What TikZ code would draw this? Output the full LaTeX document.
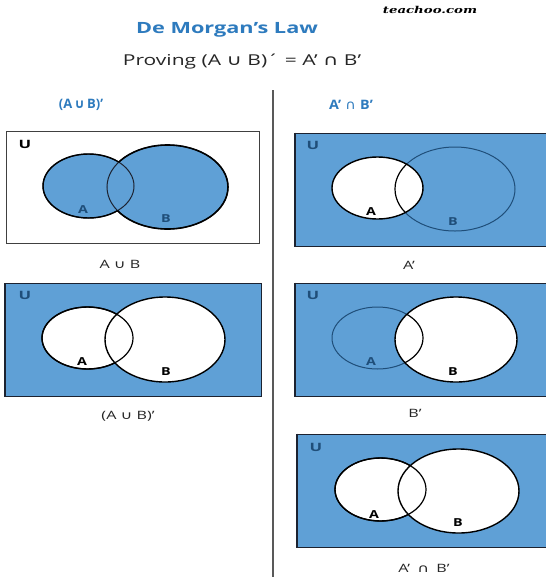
\documentclass[tikz,border=0pt]{standalone}
\usepackage{fontspec}
\setmainfont{Open Sans}
\newfontfamily\symf{DejaVu Sans}
\newfontfamily\brandf{DejaVu Serif}
\definecolor{vblue}{HTML}{5FA0D6}
\definecolor{tblue}{HTML}{2E7BBE}
\definecolor{dblue}{HTML}{1F4E79}
\definecolor{bord}{HTML}{1C2230}
\newcommand{\cupc}{{\symf\char"222A}}
\newcommand{\capc}{{\symf\char"2229}}
\newcommand{\wide}[2]{\scalebox{#1}[1]{#2}}
\begin{document}
\begin{tikzpicture}[x=1pt,y=-1pt,
  thickout/.style={draw=black,line width=1.4pt},
  thinout/.style={draw=dblue,line width=1pt},
  setlbl/.style={font=\bfseries\fontsize{11}{12}\selectfont,inner sep=0pt},
  ulbl/.style={font=\bfseries\fontsize{11.5}{12}\selectfont,inner sep=0pt},
  caption/.style={font=\fontsize{11.5}{13}\selectfont,text=black!85,inner sep=0pt},
  coltitle/.style={font=\bfseries\fontsize{13}{15}\selectfont,text=tblue,inner sep=0pt}]
\useasboundingbox (0,0) rectangle (546,579);
\fill[white] (0,0) rectangle (546,579);

% header
\node[font=\brandf\bfseries\itshape\fontsize{9.5}{11}\selectfont,inner sep=0pt] (brand) at (430,10) {\wide{1.4}{teachoo.com}};
\node[font=\bfseries\fontsize{15.5}{18}\selectfont,text=tblue,inner sep=0pt] (title) at (227,30) {\wide{1.4}{De Morgan’s Law}};
\node[font=\fontsize{15}{18}\selectfont,text=black!85,inner sep=0pt] (sub) at (242,62) {\wide{1.4}{Proving (A \cupc{} B)´ = A’ \capc{} B’}};

% divider
\coordinate (dtop) at (273,90);
\coordinate (dbot) at (273,577);
\draw[line width=1.3pt,draw=black!65] (dtop) -- (dbot);

% column titles
\node[coltitle] (t1) at (81,105) {\wide{1.0}{(A\,\cupc\,B)’}};
\node[coltitle] (t2) at (351,105) {\wide{1.1}{A’\hspace{0.3em}{\mdseries\capc}\hspace{0.3em}B’}};

% ---------- Panel 1: A u B ----------
\draw[line width=1pt,draw=black!75,fill=white] (6,131) rectangle (259,243);
\fill[vblue] (88.5,186) ellipse [x radius=45.5pt, y radius=32pt];
\fill[vblue] (167.5,187) ellipse [x radius=60.5pt, y radius=42pt];
\draw[thinout,draw=bord] (88.5,186) ellipse [x radius=45.5pt, y radius=32pt];
\draw[thinout,draw=bord] (167.5,187) ellipse [x radius=60.5pt, y radius=42pt];
\begin{scope}[even odd rule]
  \clip (0,100) rectangle (272,260) (88.5,186) ellipse [x radius=45.5pt, y radius=32pt];
  \draw[thickout,line width=1.6pt] (167.5,187) ellipse [x radius=60.5pt, y radius=42pt];
\end{scope}
\begin{scope}[even odd rule]
  \clip (0,100) rectangle (272,260) (167.5,187) ellipse [x radius=60.5pt, y radius=42pt];
  \draw[thickout] (88.5,186) ellipse [x radius=45.5pt, y radius=32pt];
\end{scope}
\node[ulbl,text=black] (u1) at (25,144) {\wide{1.45}{U}};
\node[setlbl,text=dblue] (a1) at (83,210) {\wide{1.3}{A}};
\node[setlbl,text=dblue] (b1) at (166,219) {\wide{1.3}{B}};
\node[caption] (c1) at (120,264) {\wide{1.4}{A \cupc{} B}};

% ---------- Panel 2: (A u B)' ----------
\fill[vblue] (5,283) rectangle (261,396);
\draw[line width=1pt,draw=bord] (5,283) rectangle (261,396);
\draw[line width=2pt,draw=bord] (5,283) -- (5,396.5);
\draw[fill=white,thickout] (87.5,338) ellipse [x radius=45.5pt, y radius=31pt];
\draw[fill=white,thickout] (165,339.5) ellipse [x radius=60pt, y radius=42.5pt];
\draw[thickout,line width=1.2pt] (87.5,338) ellipse [x radius=45.5pt, y radius=31pt];
\node[ulbl,text=dblue] (u2) at (25,295) {\wide{1.45}{U}};
\node[setlbl] (a2) at (82,362) {\wide{1.3}{A}};
\node[setlbl] (b2) at (166,372) {\wide{1.3}{B}};
\node[caption] (c2) at (128,416) {\wide{1.4}{(A \cupc{} B)’}};

% ---------- Panel 3: A' ----------
\fill[vblue] (295,133) rectangle (546,246);
\draw[line width=1pt,draw=bord] (546,133) -- (295,133) -- (295,246) -- (546,246);
\draw[line width=2pt,draw=bord] (295,132.5) -- (295,246.5);
\draw[thinout] (455,189) ellipse [x radius=60pt, y radius=42pt];
\draw[fill=white,thickout] (377.5,188) ellipse [x radius=45.5pt, y radius=31pt];
\begin{scope}
  \clip (377.5,188) ellipse [x radius=45.5pt, y radius=31pt];
  \draw[thickout,line width=1.2pt] (455,189) ellipse [x radius=60pt, y radius=42pt];
\end{scope}
\node[ulbl,text=dblue] (u3) at (313,145) {\wide{1.45}{U}};
\node[setlbl] (a3) at (371,212) {\wide{1.3}{A}};
\node[setlbl,text=dblue] (b3) at (453,222) {\wide{1.3}{B}};
\node[caption] (c3) at (409,265) {\wide{1.4}{A’}};

% ---------- Panel 4: B' ----------
\fill[vblue] (295,283) rectangle (546,396);
\draw[line width=1pt,draw=bord] (546,283) -- (295,283) -- (295,396) -- (546,396);
\draw[line width=2pt,draw=bord] (295,282.5) -- (295,396.5);
\draw[thinout] (377.5,338) ellipse [x radius=45.5pt, y radius=31pt];
\draw[fill=white,thickout] (456,339.5) ellipse [x radius=61pt, y radius=42.5pt];
\begin{scope}
  \clip (456,339.5) ellipse [x radius=61pt, y radius=42.5pt];
  \draw[thickout,line width=1.2pt] (377.5,338) ellipse [x radius=45.5pt, y radius=31pt];
\end{scope}
\node[ulbl,text=dblue] (u4) at (313,295) {\wide{1.45}{U}};
\node[setlbl,text=dblue] (a4) at (371,362) {\wide{1.3}{A}};
\node[setlbl] (b4) at (453,372) {\wide{1.3}{B}};
\node[caption] (c4) at (415,413) {\wide{1.4}{B’}};

% ---------- Panel 5: A' n B' ----------
\fill[vblue] (297,434) rectangle (546,547);
\draw[line width=1pt,draw=bord] (546,434) -- (297,434) -- (297,547) -- (546,547);
\draw[line width=2pt,draw=bord] (297,433.5) -- (297,547.5);
\draw[fill=white,thickout] (380.5,489.5) ellipse [x radius=45.5pt, y radius=31.5pt];
\draw[fill=white,thickout] (458.5,491) ellipse [x radius=60.5pt, y radius=42pt];
\draw[thickout,line width=1.2pt] (380.5,489.5) ellipse [x radius=45.5pt, y radius=31.5pt];
\node[ulbl,text=dblue] (u5) at (316,447) {\wide{1.45}{U}};
\node[setlbl] (a5) at (374,515) {\wide{1.3}{A}};
\node[setlbl] (b5) at (458,523) {\wide{1.3}{B}};
\node[caption] (c5) at (424,568) {\wide{1.4}{A’\hspace{0.45em}\capc\hspace{0.45em}B’}};
\end{tikzpicture}
\end{document}
